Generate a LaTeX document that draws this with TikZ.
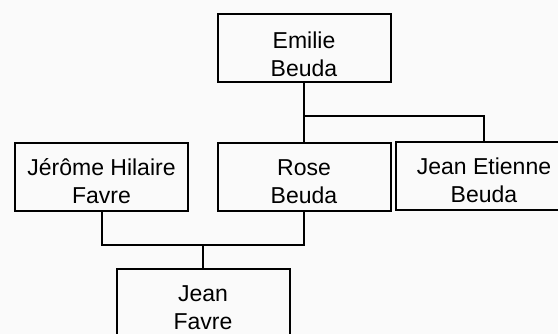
\documentclass[tikz,border=0pt]{standalone}
\usepackage{fontspec}
\setmainfont{Liberation Sans}
\definecolor{bg}{HTML}{FAFAFA}
\begin{document}
\begin{tikzpicture}[x=1pt,y=-1pt,
  person/.style={draw=black, line width=2pt, fill=bg,
    minimum width=173pt, minimum height=68pt, inner sep=0pt},
  nametext/.style={align=center, font=\fontsize{23}{28}\selectfont,
    inner sep=0pt, anchor=base},
  link/.style={line width=2pt}]
  \useasboundingbox (0,0) rectangle (558,334);
  \clip (0,0) rectangle (558,334);
  \fill[bg] (0,0) rectangle (558,334);

  % family members
  \node[person] (emilie) at (304,48.5) {};
  \node[person] (jerome) at (101.5,177) {};
  \node[person] (rose) at (304,177) {};
  \node[person, minimum width=176pt] (etienne) at (484,176) {};
  \node[person] (jean) at (203,303) {};

  % names; the anchor sits on the baseline of the second line
  \node[nametext] (temilie) at ([yshift=-63pt]emilie.north) {Emilie\\Beuda};
  \node[nametext] (tjerome) at ([yshift=-62pt]jerome.north) {Jérôme Hilaire\\Favre};
  \node[nametext] (trose) at ([yshift=-62pt]rose.north) {Rose\\Beuda};
  \node[nametext] (tetienne) at ([yshift=-62pt]etienne.north) {Jean Etienne\\Beuda};
  \node[nametext] (tjean) at ([yshift=-62pt]jean.north) {Jean\\Favre};

  % descent from Emilie
  \coordinate (fork) at (304,116);
  \draw[link] (emilie.south) -- (rose.north);
  \draw[link] (fork) -| (etienne.north);

  % parents of Jean
  \coordinate (couple) at (203,245);
  \draw[link] (jerome.south) |- (couple) -| (rose.south);
  \draw[link] (couple) -- (jean.north);
\end{tikzpicture}
\end{document}
